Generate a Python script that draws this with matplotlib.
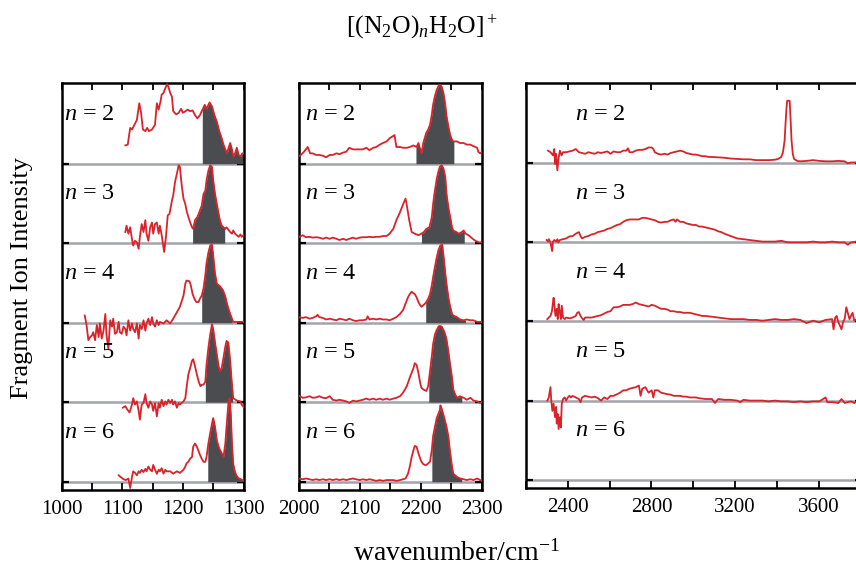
import numpy as np
import matplotlib
matplotlib.use("Agg")
import matplotlib.pyplot as plt

plt.rcParams['font.family'] = ['Liberation Serif', 'DejaVu Serif']
plt.rcParams['mathtext.fontset'] = 'custom'
plt.rcParams['mathtext.rm'] = 'Liberation Serif'
plt.rcParams['mathtext.it'] = 'Liberation Serif:italic'
plt.rcParams['mathtext.bf'] = 'Liberation Serif:bold'

# ---------------- data ----------------
cluster_sizes = [2, 3, 4, 5, 6]
title_text = r'[(N$_2$O)$_n$H$_2$O]$^+$'
xlabel_text = r'wavenumber/cm$^{-1}$'
ylabel_text = 'Fragment Ion Intensity'

p1_ticks = [1000, 1100, 1200, 1300]
p2_ticks = [2000, 2100, 2200, 2300]
p3_ticks = [2400, 2800, 3200, 3600]

# Panel 1 (1000-1300 cm-1)
p1_n2_x = [1105, 1109, 1113, 1116, 1120, 1124, 1128, 1131, 1134, 1138, 1141, 1144, 1149, 1154, 1157, 1160, 1163, 1165,
           1168, 1171, 1174, 1176, 1179, 1182, 1184, 1189, 1193, 1197, 1200, 1204, 1208, 1212, 1216, 1220, 1224, 1228,
           1233, 1236, 1239, 1244, 1248, 1252, 1256, 1260, 1264, 1267, 1270, 1273, 1275, 1278, 1281, 1283, 1286, 1289,
           1292, 1295, 1298, 1300]
p1_n2_y = [.23, .24, .45, .43, .49, .55, .76, .64, .43, .41, .45, .41, .43, .49, .76, .68, .78, .87,
           .89, .95, 1.0, .97, .89, .84, .66, .62, .64, .69, .64, .66, .68, .66, .67, .61, .57, .61,
           .69, .74, .69, .77, .72, .61, .53, .41, .32, .24, .18, .13, .19, .26, .18, .09, .13, .20,
           .11, .09, .13, .13]
p1_n3_x = [1105, 1107, 1110, 1113, 1116, 1118, 1121, 1124, 1127, 1129, 1132, 1135, 1138, 1140, 1143, 1146, 1149, 1151,
           1154, 1157, 1160, 1162, 1165, 1169, 1172, 1175, 1178, 1182, 1184, 1187, 1190, 1193, 1195, 1198, 1201, 1204,
           1206, 1209, 1212, 1215, 1217, 1220, 1224, 1227, 1231, 1234, 1237, 1239, 1242, 1245, 1248, 1250, 1253, 1256,
           1259, 1261, 1264, 1267, 1270, 1272, 1278, 1281, 1283, 1286, 1289, 1292, 1295, 1297, 1300]
p1_n3_y = [.14, .22, .12, .20, .05, -.03, .03, .01, -.07, .08, .24, .14, .29, .12, .03, .20, .26, .12,
           .24, .26, .12, .22, .10, -.11, .08, .35, .37, .54, .60, .77, .87, .98, .96, .73, .56, .49,
           .41, .33, .26, .20, .18, .29, .33, .39, .47, .62, .66, .79, .91, .98, .96, .79, .62, .49,
           .37, .29, .22, .20, .18, .20, .14, .12, .16, .12, .10, .08, .11, .08, .10]
p1_n4_x = [1038, 1041, 1044, 1047, 1050, 1052, 1055, 1058, 1061, 1063, 1066, 1069, 1072, 1074, 1077, 1080, 1083, 1085,
           1088, 1091, 1094, 1096, 1099, 1102, 1105, 1107, 1110, 1113, 1116, 1118, 1121, 1124, 1127, 1129, 1132, 1135,
           1138, 1140, 1143, 1146, 1149, 1151, 1154, 1157, 1160, 1162, 1168, 1173, 1179, 1184, 1190, 1195, 1201, 1204,
           1206, 1211, 1213, 1216, 1219, 1222, 1226, 1228, 1231, 1234, 1237, 1239, 1242, 1245, 1248, 1250, 1253, 1256,
           1261, 1266, 1270, 1272, 1275, 1278, 1281, 1283, 1289, 1300]
p1_n4_y = [.09, -.03, -.22, -.18, -.16, -.12, -.22, -.03, -.18, -.01, -.20, -.10, .11, -.16, -.33, .03, -.05, .05,
           -.14, -.12, .01, -.12, -.14, -.05, -.08, -.16, .03, -.10, -.01, -.08, -.12, -.01, -.20, -.03, -.08, .03,
           -.10, -.01, .05, -.03, .07, -.01, -.05, .03, -.03, .01, -.01, .03, -.01, .05, .13, .20, .34, .49,
           .53, .52, .47, .36, .30, .26, .26, .30, .34, .43, .60, .75, .88, .97, .98, .85, .62, .49,
           .46, .41, .33, .26, .18, .11, .05, .01, .01, .01]
p1_n5_x = [1101, 1105, 1108, 1112, 1116, 1118, 1121, 1124, 1127, 1129, 1132, 1135, 1138, 1140, 1143, 1146, 1149, 1151,
           1154, 1157, 1160, 1162, 1165, 1168, 1171, 1173, 1176, 1179, 1182, 1184, 1187, 1190, 1193, 1195, 1198, 1201,
           1204, 1206, 1209, 1212, 1215, 1217, 1220, 1223, 1226, 1229, 1231, 1234, 1237, 1239, 1242, 1245, 1248, 1250,
           1253, 1256, 1259, 1261, 1264, 1267, 1270, 1272, 1275, 1278, 1281, 1283, 1289, 1295, 1297, 1300]
p1_n5_y = [-.07, -.05, -.09, -.13, -.03, .05, -.03, .01, -.11, -.22, -.03, -.01, .10, -.01, -.07, .01, -.03, -.11,
           -.01, -.18, -.01, -.07, .03, -.05, .01, -.03, .03, -.01, .03, -.03, .01, -.07, -.01, -.03, -.01, .01,
           .05, .18, .35, .43, .52, .54, .45, .35, .26, .20, .22, .22, .26, .47, .68, .85, .98, .92,
           .75, .60, .45, .39, .43, .56, .70, .77, .75, .52, .22, .05, .02, .01, -.03, -.06]
p1_n6_x = [1094, 1097, 1102, 1106, 1110, 1113, 1116, 1118, 1121, 1124, 1127, 1129, 1132, 1135, 1138, 1140, 1143, 1146,
           1149, 1151, 1154, 1157, 1160, 1162, 1165, 1168, 1171, 1173, 1179, 1184, 1190, 1195, 1198, 1201, 1204, 1206,
           1209, 1212, 1215, 1217, 1220, 1223, 1226, 1228, 1231, 1234, 1237, 1239, 1242, 1245, 1248, 1250, 1253, 1256,
           1259, 1261, 1264, 1267, 1270, 1272, 1275, 1277, 1279, 1281, 1283, 1285, 1288, 1292, 1296, 1300]
p1_n6_y = [.08, .06, .03, .02, .04, -.08, .06, .13, .11, .08, .13, .11, .15, .12, .16, .13, .19, .15,
           .13, .21, .15, .10, .15, .13, .17, .10, .15, .13, .13, .10, .13, .11, .13, .15, .19, .23,
           .25, .29, .31, .44, .48, .44, .38, .34, .29, .25, .25, .31, .48, .61, .73, .80, .69, .52,
           .44, .40, .36, .31, .48, .69, .98, 1.05, .86, .48, .23, .15, .08, .04, .03, .01]

# Panel 2 (2000-2300 cm-1)
p2_n2_x = [2000, 2004, 2009, 2015, 2019, 2023, 2029, 2034, 2040, 2045, 2051, 2056, 2062, 2067, 2073, 2078, 2083, 2089,
           2094, 2100, 2105, 2111, 2116, 2122, 2127, 2133, 2138, 2144, 2149, 2155, 2157, 2160, 2166, 2171, 2177, 2182,
           2188, 2193, 2196, 2199, 2201, 2204, 2207, 2209, 2212, 2215, 2218, 2220, 2223, 2226, 2229, 2231, 2234, 2237,
           2240, 2242, 2245, 2248, 2251, 2253, 2259, 2264, 2270, 2275, 2281, 2286, 2292, 2294, 2297, 2300]
p2_n2_y = [.09, .11, .15, .21, .13, .13, .11, .11, .10, .08, .11, .11, .13, .12, .14, .15, .20, .18,
           .18, .18, .18, .20, .17, .20, .21, .24, .26, .28, .32, .35, .36, .21, .21, .20, .20, .21,
           .23, .21, .26, .18, .13, .26, .34, .39, .43, .49, .62, .74, .85, .93, .98, .99, .97, .89,
           .74, .60, .47, .36, .30, .28, .28, .26, .26, .24, .24, .22, .20, .15, .13, .15]
p2_n3_x = [2000, 2007, 2012, 2018, 2023, 2029, 2034, 2040, 2045, 2051, 2056, 2062, 2067, 2073, 2078, 2083, 2089, 2094,
           2100, 2105, 2111, 2116, 2122, 2127, 2133, 2138, 2144, 2149, 2155, 2160, 2166, 2171, 2175, 2177, 2181, 2185,
           2190, 2196, 2201, 2205, 2209, 2214, 2218, 2220, 2223, 2226, 2229, 2231, 2234, 2237, 2240, 2242, 2245, 2248,
           2251, 2253, 2258, 2262, 2267, 2270, 2273, 2278, 2284, 2289, 2295, 2300]
p2_n3_y = [.075, .10, .075, .08, .07, .075, .07, .055, .07, .055, .07, .055, .04, .055, .04, .055, .07, .055,
           .07, .075, .075, .08, .075, .08, .08, .09, .09, .12, .18, .29, .39, .49, .56, .48, .29, .14,
           .12, .10, .12, .14, .18, .20, .33, .49, .66, .81, .91, .96, .98, .94, .83, .62, .45, .33,
           .20, .16, .14, .12, .14, .16, .12, .10, .06, .03, .01, .01]
p2_n4_x = [2000, 2007, 2012, 2018, 2023, 2029, 2031, 2034, 2040, 2045, 2051, 2056, 2062, 2067, 2073, 2078, 2083, 2089,
           2094, 2100, 2105, 2111, 2113, 2116, 2122, 2127, 2133, 2138, 2144, 2149, 2155, 2160, 2166, 2171, 2175, 2179,
           2182, 2185, 2188, 2190, 2193, 2196, 2199, 2201, 2204, 2207, 2209, 2212, 2215, 2218, 2220, 2223, 2226, 2229,
           2232, 2235, 2237, 2240, 2242, 2245, 2248, 2251, 2253, 2259, 2264, 2270, 2275, 2281, 2286, 2292, 2300]
p2_n4_y = [.07, .06, .07, .05, .06, .08, .10, .07, .06, .04, .05, .04, .03, .05, .04, .03, .05, .03,
           .02, .03, .03, .04, .08, .04, .05, .04, .05, .04, .04, .03, .05, .07, .11, .16, .24, .32,
           .36, .39, .37, .36, .32, .26, .22, .20, .22, .24, .26, .30, .36, .47, .57, .70, .82, .92,
           .97, .98, .85, .62, .49, .32, .20, .11, .09, .07, .04, .03, .04, .03, .03, .01, .01]
p2_n5_x = [2002, 2007, 2012, 2018, 2023, 2029, 2034, 2040, 2045, 2051, 2056, 2062, 2067, 2073, 2078, 2083, 2089, 2094,
           2100, 2105, 2111, 2116, 2122, 2127, 2133, 2138, 2144, 2149, 2155, 2160, 2166, 2171, 2177, 2182, 2188, 2190,
           2193, 2196, 2199, 2201, 2204, 2209, 2212, 2215, 2218, 2220, 2223, 2226, 2229, 2231, 2234, 2237, 2240, 2242,
           2245, 2248, 2251, 2253, 2256, 2259, 2264, 2270, 2275, 2281, 2286, 2292, 2297, 2300]
p2_n5_y = [.075, .055, .06, .075, .055, .06, .075, .055, .05, .075, .03, .02, .03, .02, .01, -.01, .02, .01,
           .02, .03, .045, .03, .045, .03, .045, .03, .045, .03, .045, .055, .075, .12, .20, .31, .43, .49,
           .47, .37, .24, .18, .16, .14, .20, .39, .58, .73, .85, .91, .95, .96, .95, .91, .85, .79,
           .64, .47, .31, .16, .10, .055, .075, .055, .03, .055, .02, .01, -.01, .005]
p2_n6_x = [2000, 2007, 2012, 2018, 2023, 2029, 2034, 2040, 2045, 2051, 2056, 2062, 2067, 2073, 2078, 2083, 2089, 2094,
           2100, 2105, 2111, 2116, 2122, 2127, 2133, 2138, 2144, 2149, 2155, 2160, 2166, 2171, 2175, 2179, 2182, 2185,
           2188, 2190, 2193, 2196, 2199, 2201, 2204, 2207, 2209, 2212, 2215, 2218, 2220, 2223, 2226, 2229, 2231, 2232,
           2234, 2237, 2240, 2242, 2245, 2248, 2251, 2253, 2259, 2264, 2270, 2275, 2281, 2286, 2292, 2297, 2300]
p2_n6_y = [.04, .03, .04, .03, .02, .03, .02, .03, .02, .03, .02, .03, .02, .03, .02, .03, .04, .03,
           .02, .03, .02, .03, .02, .01, .02, .01, .02, .02, .02, .01, .02, .03, .04, .10, .19, .31,
           .40, .45, .44, .36, .29, .25, .22, .21, .21, .23, .25, .40, .57, .69, .80, .86, .90, .96,
           .92, .84, .75, .69, .57, .36, .19, .10, .06, .04, .03, .02, .03, .02, .04, .02, .01]

# Panel 3 (2300-3800 cm-1)
p3_n2_x = [2305, 2317, 2329, 2335, 2339, 2344, 2350, 2355, 2362, 2370, 2377, 2392, 2408, 2423, 2438, 2453, 2468, 2483,
           2498, 2513, 2529, 2544, 2559, 2574, 2589, 2604, 2619, 2635, 2650, 2665, 2680, 2688, 2695, 2710, 2725, 2740,
           2756, 2771, 2786, 2801, 2809, 2816, 2831, 2846, 2862, 2877, 2892, 2907, 2922, 2937, 2952, 2967, 2983, 2998,
           3013, 3028, 3043, 3058, 3073, 3089, 3119, 3149, 3179, 3210, 3240, 3270, 3300, 3331, 3361, 3391, 3406, 3421,
           3429, 3437, 3441, 3446, 3449, 3461, 3465, 3470, 3476, 3482, 3497, 3512, 3542, 3573, 3603, 3633, 3664, 3694,
           3724, 3739, 3754, 3782]
p3_n2_y = [.16, .14, .10, .18, -.01, .12, -.09, .05, .16, .10, .14, .14, .15, .16, .18, .14, .13, .12,
           .14, .13, .12, .14, .13, .14, .15, .12, .15, .14, .14, .16, .16, .19, .14, .14, .16, .17,
           .17, .18, .20, .20, .18, .14, .12, .11, .12, .11, .13, .14, .15, .16, .15, .13, .12, .11,
           .11, .10, .09, .09, .08, .08, .075, .07, .06, .055, .05, .05, .04, .04, .04, .045, .055, .08,
           .14, .29, .49, .70, .79, .79, .58, .29, .12, .055, .03, .025, .03, .04, .03, .025, .025, .03,
           .025, 0.0, .01, .01]
p3_n3_x = [2299, 2305, 2309, 2317, 2325, 2329, 2335, 2344, 2350, 2355, 2362, 2377, 2392, 2408, 2423, 2438, 2453, 2461,
           2468, 2483, 2498, 2513, 2529, 2544, 2559, 2574, 2589, 2604, 2619, 2635, 2650, 2665, 2680, 2695, 2710, 2725,
           2740, 2756, 2771, 2786, 2801, 2816, 2831, 2846, 2862, 2877, 2892, 2907, 2915, 2922, 2937, 2952, 2967, 2983,
           2998, 3013, 3028, 3043, 3058, 3073, 3089, 3104, 3119, 3134, 3149, 3179, 3210, 3240, 3270, 3300, 3331, 3361,
           3391, 3421, 3452, 3482, 3512, 3542, 3573, 3603, 3633, 3664, 3694, 3724, 3739, 3754, 3782]
p3_n3_y = [.03, .01, .04, 0.0, -.11, .01, .03, .01, .04, 0.0, .03, .04, .05, .075, .08, .11, .13, .08,
           .05, .07, .08, .10, .11, .13, .14, .15, .17, .18, .20, .22, .23, .26, .28, .29, .29, .29,
           .29, .31, .31, .30, .29, .28, .26, .25, .26, .26, .28, .29, .26, .29, .26, .26, .24, .23,
           .22, .22, .20, .20, .19, .18, .17, .16, .14, .13, .11, .08, .05, .04, .03, .02, .01, .01,
           .01, .02, 0.0, 0.0, 0.0, 0.0, .01, 0.0, 0.0, .01, 0.0, 0.0, -.03, 0.0, .01]
p3_n4_x = [2302, 2309, 2317, 2324, 2329, 2332, 2336, 2341, 2347, 2352, 2356, 2362, 2367, 2371, 2377, 2385, 2392, 2408,
           2423, 2438, 2445, 2453, 2461, 2468, 2476, 2483, 2498, 2513, 2529, 2544, 2559, 2574, 2589, 2604, 2619, 2635,
           2650, 2665, 2680, 2695, 2710, 2725, 2740, 2756, 2771, 2786, 2801, 2816, 2831, 2846, 2862, 2877, 2892, 2907,
           2922, 2937, 2952, 2967, 2983, 2998, 3013, 3028, 3043, 3058, 3089, 3119, 3149, 3179, 3210, 3240, 3270, 3300,
           3331, 3361, 3391, 3421, 3452, 3482, 3512, 3542, 3573, 3603, 3633, 3664, 3671, 3679, 3686, 3694, 3701, 3709,
           3716, 3724, 3732, 3739, 3747, 3754, 3762, 3770, 3782]
p3_n4_y = [.03, .05, .07, .13, .24, .30, .20, .07, .16, .03, .22, .11, .03, .20, .05, .03, .05, .04,
           .05, .07, .11, .12, .07, .04, .02, .05, .05, .05, .06, .07, .08, .10, .12, .13, .18, .18,
           .19, .21, .21, .21, .22, .24, .22, .21, .20, .19, .21, .20, .18, .16, .16, .15, .13, .13,
           .12, .12, .11, .11, .11, .10, .09, .08, .07, .07, .06, .05, .04, .03, .03, .03, .02, .02,
           .01, .02, .03, .02, .02, .03, .02, -.02, .01, -.01, .02, .03, -.10, .05, .07, -.01, -.05, -.10,
           -.01, .03, .18, .11, .03, .07, .11, .01, .03]
p3_n5_x = [2302, 2309, 2317, 2321, 2326, 2332, 2339, 2344, 2347, 2352, 2356, 2362, 2367, 2371, 2377, 2385, 2392, 2400,
           2408, 2415, 2423, 2438, 2453, 2461, 2468, 2483, 2498, 2513, 2529, 2544, 2559, 2574, 2589, 2604, 2619, 2635,
           2650, 2665, 2680, 2695, 2710, 2725, 2740, 2748, 2756, 2771, 2786, 2801, 2809, 2816, 2831, 2846, 2862, 2877,
           2892, 2907, 2922, 2937, 2952, 2967, 2983, 2998, 3013, 3028, 3058, 3089, 3104, 3119, 3149, 3179, 3210, 3225,
           3240, 3270, 3300, 3331, 3361, 3391, 3421, 3452, 3482, 3512, 3542, 3573, 3603, 3633, 3641, 3664, 3694, 3709,
           3724, 3739, 3754, 3770, 3782]
p3_n5_y = [0.0, .04, .17, 0.0, -.13, -.04, -.21, -.08, -.29, -.17, -.36, -.21, -.34, -.04, .02, .04, 0.0, .04,
           .06, .04, .06, .04, .02, -.02, .04, .06, .05, .04, .05, .03, 0.0, .04, .02, .06, .06, .08,
           .10, .13, .13, .15, .16, .17, .19, .06, .15, .17, .10, .13, .04, .13, .13, .10, .09, .08,
           .075, .06, .06, .06, .05, .05, .04, .04, .04, .03, .02, .02, -.03, .02, .01, .01, 0.0, -.02,
           .01, 0.0, 0.0, 0.0, -.01, 0.0, -.01, -.01, -.02, -.01, -.02, -.01, -.01, .04, -.02, -.02, -.03, .02,
           -.03, -.02, -.01, -.03, -.01]

# wavenumber ranges shaded grey (per cluster size, n = 2..6); None = no shading
p1_fill = [(1232, 1300), (1216, 1269), (1231, 1281), (1237, 1282), (1241, 1300)]
p2_fill = [(2192, 2254), (2201, 2271), (2208, 2273), (2213, 2267), (2218, 2267)]
p3_fill = [None, None, None, None, None]

p1_traces = [(p1_n2_x, p1_n2_y), (p1_n3_x, p1_n3_y), (p1_n4_x, p1_n4_y), (p1_n5_x, p1_n5_y), (p1_n6_x, p1_n6_y)]
p2_traces = [(p2_n2_x, p2_n2_y), (p2_n3_x, p2_n3_y), (p2_n4_x, p2_n4_y), (p2_n5_x, p2_n5_y), (p2_n6_x, p2_n6_y)]
p3_traces = [(p3_n2_x, p3_n2_y), (p3_n3_x, p3_n3_y), (p3_n4_x, p3_n4_y), (p3_n5_x, p3_n5_y), None]

# ---------------- styling ----------------
RED = '#d9232a'
GREY_FILL = '#4a4c50'
GREY_BASE = '#a3a4ab'

W, H = 856, 572
fig = plt.figure(figsize=(W / 100, H / 100), dpi=100)


def px_axes(x0, x1, ytop, ybot):
    return fig.add_axes([x0 / W, 1 - ybot / H, (x1 - x0) / W, (ybot - ytop) / H])


panels = [
    dict(rect=(61.7, 243.5, 83, 490), xlim=(1000, 1300), ticks=p1_ticks, minor=50,
         traces=p1_traces, fills=p1_fill, label_x=1003),
    dict(rect=(298.5, 482, 83, 490), xlim=(2000, 2300), ticks=p2_ticks, minor=50,
         traces=p2_traces, fills=p2_fill, label_x=2010),
    dict(rect=(526, 862, 83, 488), xlim=(2283, 3807), ticks=p3_ticks, minor=200,
         traces=p3_traces, fills=p3_fill, label_x=2435),
]

for pan in panels:
    ax = px_axes(*pan['rect'])
    ax.set_xlim(*pan['xlim'])
    ax.set_ylim(-0.105, 5.015)
    offsets = [4 - i for i in range(len(cluster_sizes))]
    for i, n in enumerate(cluster_sizes):
        off = offsets[i]
        ax.axhline(off, color=GREY_BASE, lw=1.8, zorder=1)
        tr = pan['traces'][i]
        if tr is not None:
            x = np.asarray(tr[0], float)
            y = np.asarray(tr[1], float)
            fr = pan['fills'][i]
            if fr is not None:
                xs = np.linspace(fr[0], fr[1], 300)
                ys = np.interp(xs, x, y)
                ax.fill_between(xs, off, off + ys, color=GREY_FILL, lw=0, zorder=2)
            ax.plot(x, y + off, color=RED, lw=1.3, zorder=3)
        ax.text(pan['label_x'], off + 0.62, r'$n$ = %d' % n, fontsize=17.5, va='center', ha='left', zorder=4)
    ax.set_xticks(pan['ticks'])
    ax.set_xticks(np.arange(pan['xlim'][0] - pan['xlim'][0] % pan['minor'], pan['xlim'][1] + 1, pan['minor']),
                  minor=True)
    ax.set_yticks(offsets)
    ax.set_yticklabels([])
    ax.tick_params(axis='x', which='both', direction='in', top=True, bottom=True, length=5, width=1.3,
                   labelsize=15, pad=7)
    ax.tick_params(axis='y', which='both', direction='in', left=True, right=True, length=5, width=1.6)
    for sp in ax.spines.values():
        sp.set_linewidth(1.8)

fig.text(422 / W, 1 - 27 / H, title_text, fontsize=18.5, ha='center', va='center')
fig.text(456 / W, 1 - 553 / H, xlabel_text, fontsize=20, ha='center', va='center')
fig.text(22 / W, 1 - 278 / H, ylabel_text, fontsize=19, ha='center', va='center', rotation=90)

fig.savefig('out.png', dpi=100)
